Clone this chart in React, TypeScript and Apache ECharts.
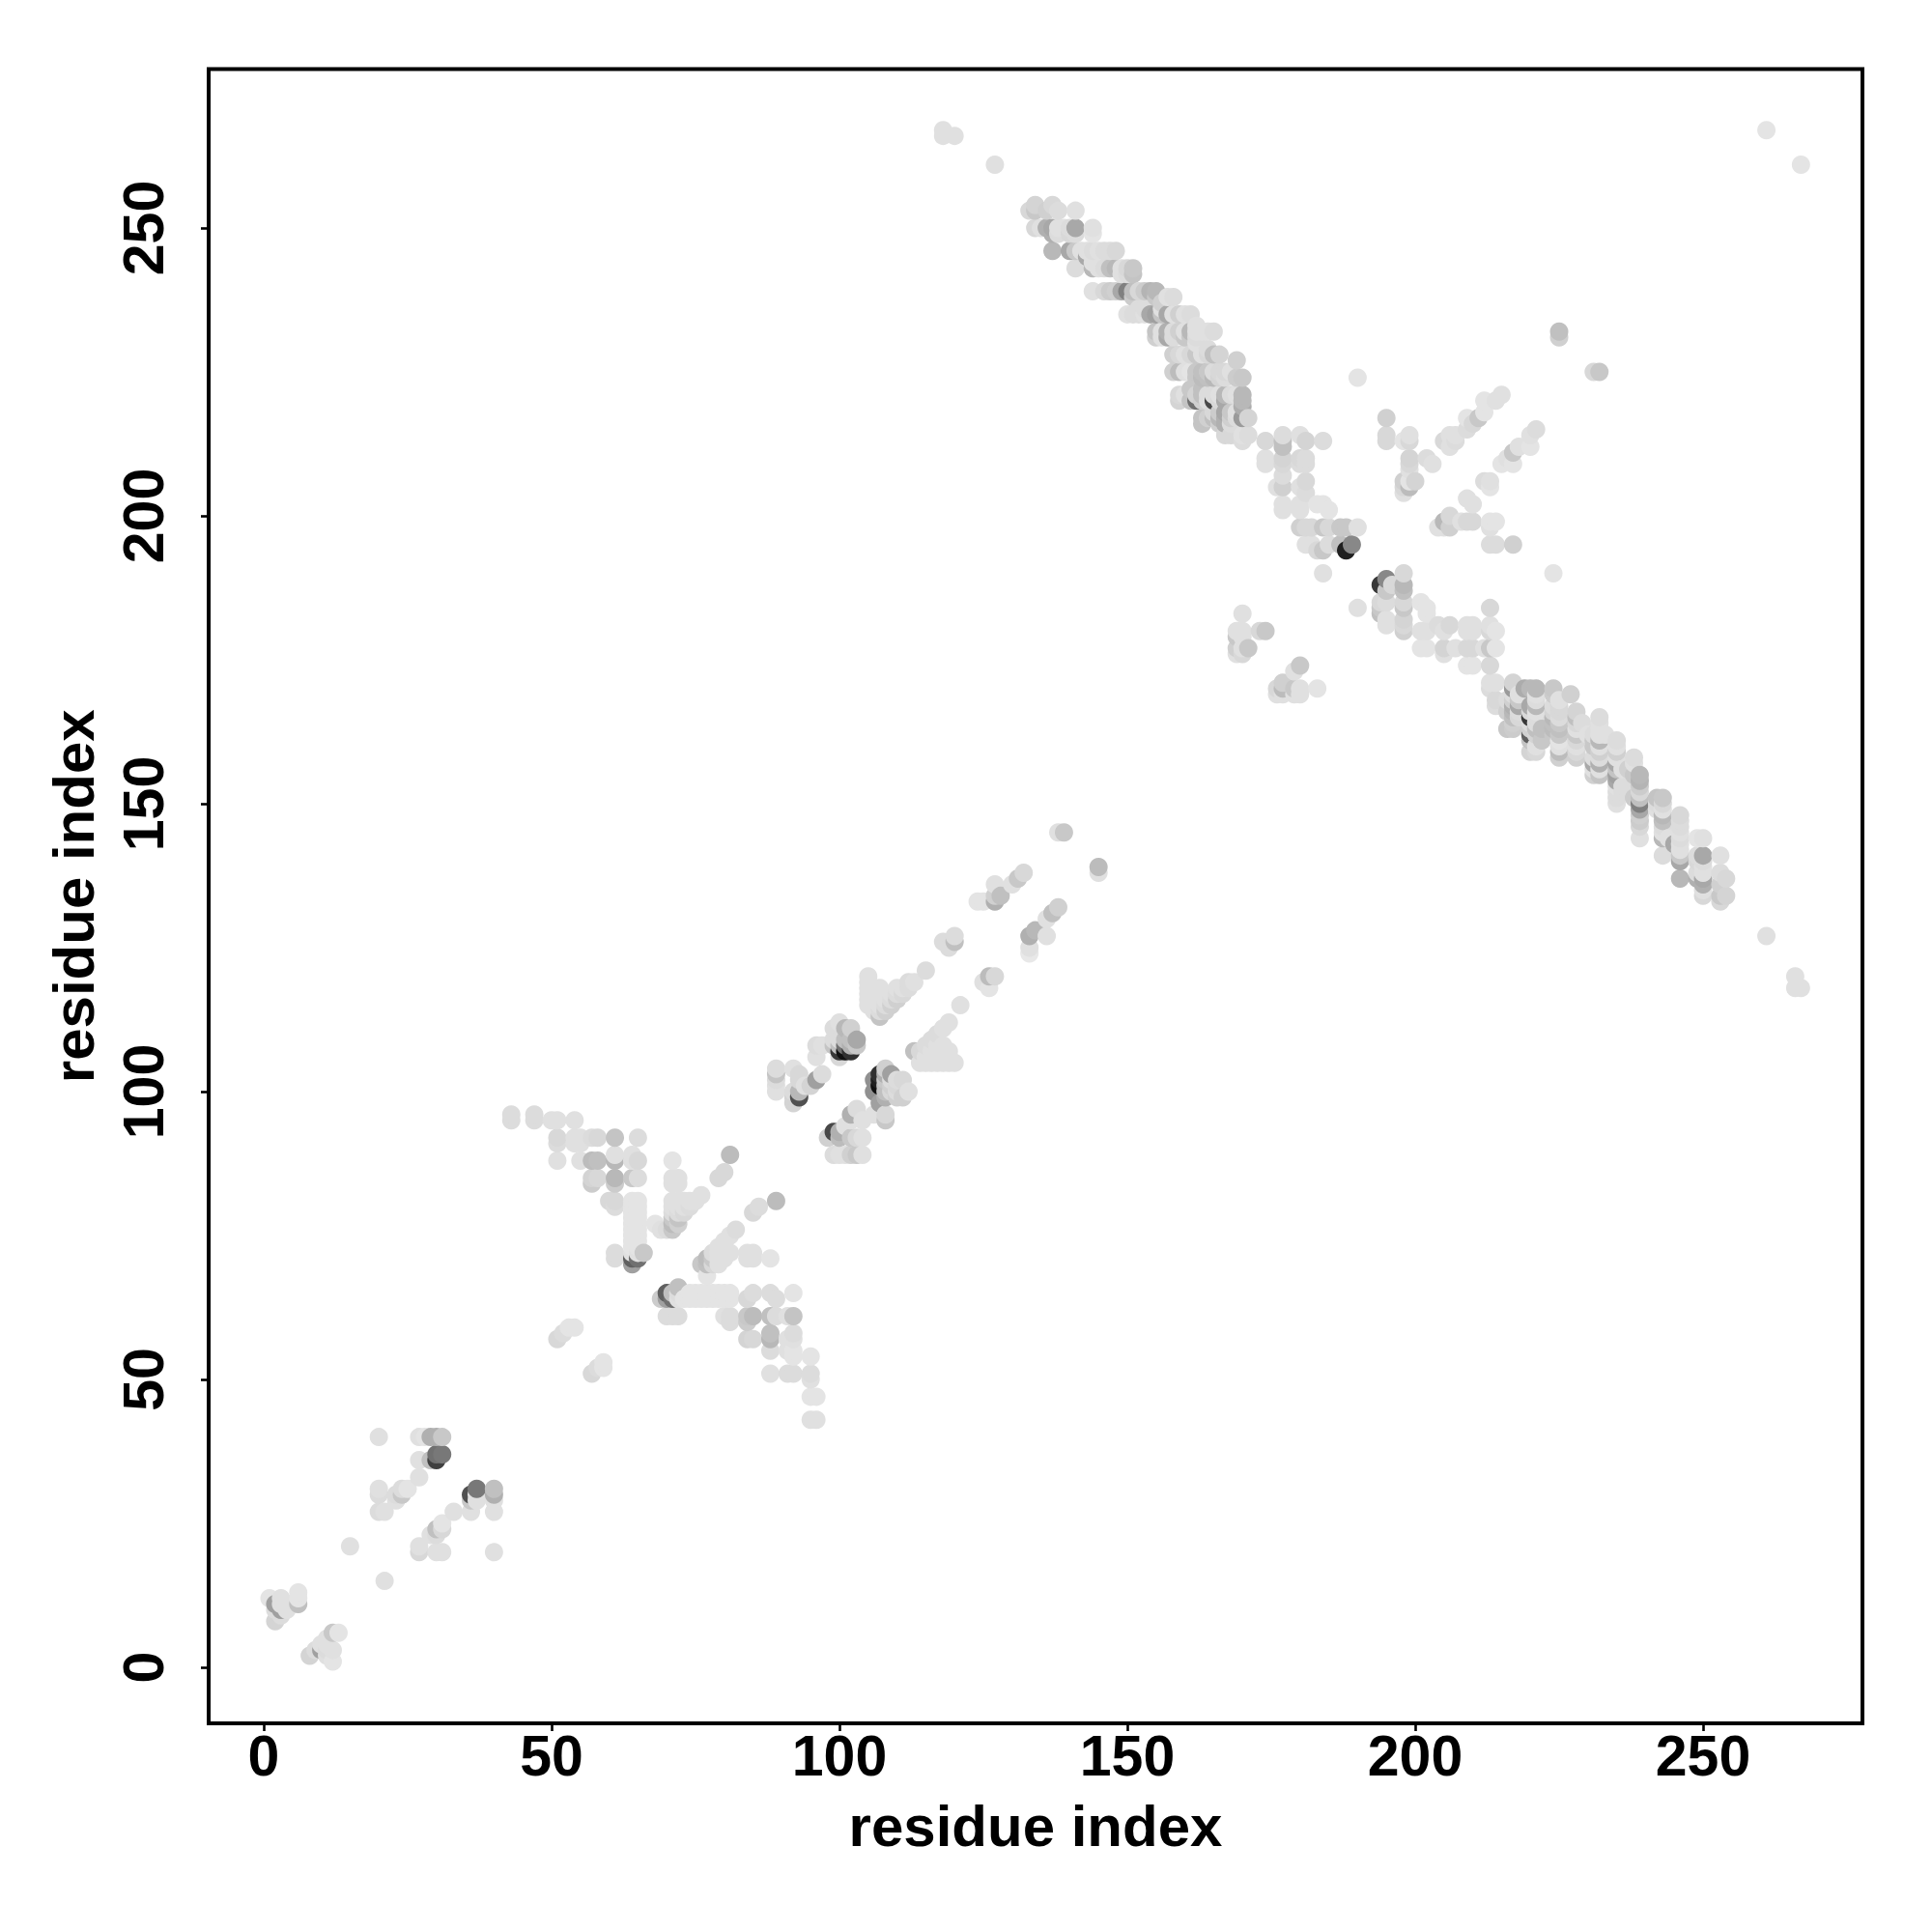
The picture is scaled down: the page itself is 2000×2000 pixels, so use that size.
import React, { useEffect, useRef } from "react";
import * as echarts from "echarts";

type Contact = [number, number, number];

const xTickValues = [0, 50, 100, 150, 200, 250];
const yTickValues = [0, 50, 100, 150, 200, 250];
const axisTitle = "residue index";

// [residue i, residue j, grey level]
const lowUpper: Contact[] = [
  [1,12,0xe4],[2,10,0xdc],[2,11,0xa0],[3,11,0xe0],[3,12,0xe0],[4,11,0xe0],[5,11,0xe0],[6,11,0xc0],[6,12,0xe4],[2,8,0xd4],[3,9,0xdc],[3,10,0xa0],[4,10,0xe0],[6,13,0xe4],
  [15,21,0xe0],[20,27,0xdc],[20,30,0xdc],[20,31,0xe0],[20,40,0xe0],[21,27,0xe0],[23,29,0xe0],[23,30,0xdc],[24,30,0xc8],[24,31,0xdc],[25,31,0xe4],
  [27,33,0xe0],[27,36,0xe0],[27,40,0xe0],[28,40,0xe4],[29,36,0xc0],[29,40,0xb0],[30,36,0x40],[30,37,0x70],[30,40,0xb0],[31,37,0x78],[31,40,0xc8],
];
const lowLower: Contact[] = [
  [12,1,0xe4],[11,2,0xe0],[11,3,0xdc],[12,3,0xe0],[11,4,0xe0],[11,5,0xe0],[12,6,0xc8],[13,6,0xe4],[8,2,0xd4],[9,3,0xdc],[10,3,0xa0],[10,4,0xe0],
  [21,15,0xe0],[27,20,0xd8],[27,21,0xe0],[29,23,0xe0],[30,20,0xe0],[30,23,0xdc],[30,24,0xc0],[31,20,0xe0],[31,24,0xd8],[31,25,0xe4],[33,27,0xe0],
  [36,27,0xe0],[36,29,0xc8],[36,30,0x50],[37,29,0xe0],[37,30,0xe0],[37,31,0x78],[40,20,0xe0],[40,27,0xe0],[40,29,0xe0],[40,30,0xb0],[40,31,0xc0],
];
const midLeftUpper: Contact[] = [
  [43,95,0xdc],[43,96,0xdc],[47,95,0xdc],[47,96,0xdc],[50,95,0xe0],[51,95,0xe0],[54,95,0xe0],[51,88,0xe0],[51,91,0xdc],[51,92,0xd8],[51,57,0xd8],[52,58,0xdc],[53,59,0xe4],[54,59,0xe4],
  [54,91,0xe0],[54,92,0xe0],[55,88,0xe0],[55,91,0xe0],[55,92,0xe0],[57,84,0xcc],[57,85,0xd4],[57,88,0xbc],[57,92,0xdc],[58,85,0xd8],[58,88,0xc0],[58,92,0xd8],
  [60,81,0xd8],[61,71,0xdc],[61,72,0xdc],[61,80,0xdc],[61,81,0xd8],[61,84,0xcc],[61,85,0xb8],[61,88,0xb8],[61,89,0xe0],[61,92,0xc4],
  [64,70,0xa0],[64,71,0x60],[64,72,0xe0],[64,73,0xe4],[64,74,0xe4],[64,75,0xe4],[64,76,0xe4],[64,77,0xe4],[64,78,0xe4],[64,79,0xe4],[64,80,0xe4],[64,81,0xe4],[64,85,0xc8],[64,88,0xe0],[64,89,0xe0],
  [65,71,0x70],[65,72,0xe0],[65,73,0xe4],[65,74,0xe4],[65,75,0xe4],[65,76,0xe4],[65,77,0xe4],[65,78,0xe4],[65,79,0xe4],[65,80,0xe4],[65,81,0xe4],[65,85,0xdc],[65,88,0xd8],[65,92,0xdc],[66,72,0xc8],
  [68,77,0xe4],[69,76,0xe0],[70,76,0xdc],[71,76,0xc8],[71,77,0xbc],[71,78,0xc8],[71,79,0xdc],[71,80,0xe0],[71,81,0xe0],[71,84,0xe0],[71,85,0xe0],[71,88,0xe4],
  [72,77,0xd0],[72,78,0xc4],[72,79,0xdc],[72,80,0xe0],[72,81,0xe0],[72,84,0xe0],[72,85,0xe0],[73,79,0xd8],[73,80,0xe0],[73,81,0xe0],[74,80,0xdc],[74,81,0xe0],[75,81,0xe0],[76,82,0xe0],[79,85,0xd8],[80,86,0xd8],[81,89,0xbc],
];
const midLeftLower: Contact[] = [
  [57,51,0xd8],[58,52,0xdc],[59,52,0xe4],[59,53,0xe4],[69,64,0xcc],[70,61,0xdc],[70,64,0xa0],[70,65,0x60],[71,61,0xdc],[71,64,0x70],[71,65,0xc0],[72,61,0xdc],[72,64,0xe0],[72,65,0xdc],[72,66,0xc0],
  [73,64,0xe4],[74,64,0xe4],[74,65,0xe4],[75,64,0xe4],[75,65,0xe4],[76,64,0xe4],[76,65,0xe4],[76,70,0xc8],[77,64,0xe4],[77,65,0xe4],[77,68,0xe4],[77,70,0xc0],[77,71,0xbc],[78,64,0xe4],[78,65,0xe4],[78,70,0xd8],[78,71,0xc8],[78,72,0xdc],
  [79,64,0xe4],[79,65,0xe4],[79,70,0xe0],[79,71,0xe0],[79,72,0xe0],[79,73,0xe0],[80,61,0xe0],[80,64,0xe4],[80,65,0xe4],[80,71,0xe0],[80,72,0xe0],[80,73,0xe0],[80,74,0xe0],[81,60,0xdc],[81,61,0xdc],[81,64,0xe4],[81,65,0xe4],[81,72,0xe0],[81,75,0xe0],[82,76,0xdc],
  [84,57,0xd4],[84,60,0xcc],[84,61,0xc8],[84,64,0xd8],[84,71,0xe0],[84,72,0xe0],[85,57,0xd8],[85,61,0xbc],[85,65,0xdc],[85,71,0xe0],[85,72,0xe0],[85,79,0xd8],[86,80,0xdc],
  [88,51,0xe0],[88,55,0xdc],[88,57,0xb8],[88,58,0xc0],[88,61,0xc0],[88,65,0xdc],[88,71,0xe4],[89,61,0xdc],[89,64,0xdc],[89,81,0xbc],
  [91,51,0xdc],[91,55,0xe0],[91,57,0xe0],[91,61,0xe0],[92,51,0xdc],[92,54,0xe4],[92,55,0xe4],[92,57,0xe0],[92,58,0xdc],[92,61,0xc4],[92,65,0xe4],[95,43,0xe0],[95,47,0xe4],[95,50,0xe0],[95,51,0xdc],[95,54,0xe4],[96,43,0xe0],[96,47,0xe4],
];
const midRightUpper: Contact[] = [
  [89,100,0xe0],[89,101,0xe0],[89,102,0xdc],[89,103,0xc4],[89,104,0xdc],[92,98,0xd4],[92,99,0xd4],[92,100,0xdc],[92,104,0xe0],[93,99,0x50],[93,100,0xb8],[93,102,0xd8],[93,103,0xd8],[94,101,0xe0],[95,101,0xd4],[96,102,0xa0],[96,106,0xe0],[96,108,0xdc],[97,103,0xdc],[97,108,0xe0],
  [99,108,0xc4],[99,109,0xdc],[99,111,0xdc],[100,106,0xd8],[100,107,0x38],[100,108,0xc0],[100,109,0xdc],[100,112,0xe0],[101,107,0x10],[101,108,0x70],[101,109,0xc0],[101,111,0xb8],[102,107,0x30],[102,108,0xb0],[102,109,0xc0],[102,111,0xd0],[103,108,0xc8],[103,109,0xa8],
  [105,115,0xe0],[105,116,0xe0],[105,117,0xe0],[105,118,0xe0],[105,119,0xe0],[105,120,0xe0],[106,114,0xe0],[106,115,0xe0],[106,116,0xe0],[106,117,0xe0],[106,118,0xe0],[107,113,0xc4],[107,114,0xdc],[107,115,0xe0],[107,116,0xe0],[107,117,0xe0],[107,118,0xe0],
  [108,114,0xd0],[108,115,0xdc],[108,116,0xe0],[108,117,0xe0],[109,115,0xd0],[109,116,0xdc],[109,117,0xe0],[110,116,0xd0],[110,117,0xdc],[110,118,0xe0],[111,117,0xd8],[111,118,0xe0],[112,118,0xdc],[112,119,0xdc],[113,119,0xe0],[115,121,0xdc],
  [118,126,0xdc],[118,267,0xe0],[118,266,0xe0],[119,125,0xdc],[120,126,0xc0],[120,127,0xdc],[120,266,0xe0],[124,133,0xe4],[125,133,0xe4],[127,133,0xb0],[127,134,0xd0],[127,136,0xe0],[127,261,0xe0],[128,134,0xc0],[130,136,0xe0],[131,137,0xc8],[132,138,0xd8],[138,145,0xe0],[139,145,0xc8],
];
const midRightLower: Contact[] = [
  [98,92,0xd0],[99,89,0xdc],[99,93,0x48],[100,89,0xe0],[100,92,0xbc],[100,93,0xb0],[101,89,0xe0],[101,94,0xe0],[102,89,0xd0],[102,92,0xc8],[102,95,0xe0],[102,96,0xb0],[103,89,0xc8],[103,92,0xd8],[103,97,0xdc],[104,89,0xe0],[104,92,0xe0],[104,95,0xe0],
  [106,96,0xe0],[106,100,0x90],[106,102,0x90],[107,98,0xa0],[107,101,0x10],[107,102,0x20],[107,103,0x30],[108,95,0xc8],[108,96,0xd8],[108,99,0xb0],[108,100,0xc0],[108,101,0xc0],[108,102,0xc8],[108,103,0xb0],[108,104,0xd0],[109,100,0xd8],[109,101,0xd0],[109,102,0xdc],[109,103,0xa0],[110,99,0xd0],[110,100,0xdc],[110,101,0xd8],[110,102,0xdc],[111,99,0xd0],[111,102,0xd8],[112,100,0xe0],
  [113,107,0xc0],[114,105,0xe0],[114,107,0xd8],[115,105,0xe0],[115,106,0xe0],[115,108,0xdc],[116,105,0xe0],[116,106,0xe0],[116,107,0xe0],[116,109,0xdc],[117,105,0xe0],[117,106,0xe0],[117,107,0xe0],[117,108,0xe0],[117,110,0xdc],
  [118,105,0xe0],[118,106,0xe0],[118,107,0xe0],[118,108,0xe0],[118,111,0xe0],[119,105,0xe0],[119,106,0xe0],[119,107,0xe0],[119,112,0xe0],[120,105,0xe0],[121,115,0xe0],
  [125,119,0xe0],[126,118,0xe4],[126,120,0xbc],[127,120,0xd8],[133,124,0xe8],[133,125,0xe0],[133,127,0xb0],[134,128,0xb8],[136,127,0xe0],[136,130,0xe0],[137,131,0xc0],[138,132,0xd0],[145,138,0xe0],[145,139,0xbc],
];
const bandUpper: Contact[] = [
  [133,253,0xd8],[134,250,0xd8],[134,253,0xc8],[134,254,0xd4],[135,250,0xe0],[136,250,0xb0],[136,253,0xd0],[137,246,0xb8],[137,249,0xb0],[137,250,0xa8],[137,254,0xd8],[138,249,0xdc],[138,250,0xe0],[138,253,0xdc],[139,250,0xe0],[140,246,0xa8],[140,249,0xd8],[140,250,0xdc],[141,243,0xdc],[141,246,0xc8],[141,249,0xdc],[141,250,0xa8],[141,253,0xe0],
  [142,246,0xe0],[143,245,0xa8],[143,246,0xe0],[144,239,0xe0],[144,243,0xb8],[144,244,0xe0],[144,246,0xdc],[144,249,0xe4],[144,250,0xe0],[145,243,0xe0],[145,246,0xe0],[146,239,0xd8],[146,243,0xdc],[146,246,0xdc],[147,239,0xcc],[147,243,0xc0],[147,246,0xdc],[148,239,0xd0],[148,243,0xb8],[148,246,0xd8],[149,239,0xa8],[149,242,0xe0],[149,243,0xe0],
  [150,235,0xe0],[150,239,0x80],[150,242,0xdc],[150,243,0xd8],[151,235,0xdc],[151,238,0xcc],[151,239,0xc0],[151,242,0xc4],[151,243,0xc8],[152,235,0xdc],[152,236,0xdc],[152,239,0xd8],[153,235,0xe0],[153,236,0xdc],[153,239,0xcc],[154,235,0xa8],[154,239,0xb4],[155,231,0xd0],[155,232,0xc4],[155,235,0xa0],[155,238,0xc8],[155,239,0xb8],
  [156,231,0xe0],[156,232,0xe0],[156,235,0xc4],[156,236,0xe0],[156,237,0xd0],[157,231,0xa8],[157,232,0xb0],[157,235,0xa8],[157,238,0xe0],[158,225,0xd0],[158,228,0xd0],[158,231,0xdc],[158,232,0xdc],[158,235,0xe0],[158,238,0xdc],[159,220,0xd4],[159,221,0xd8],[159,225,0xbc],[159,228,0xd8],[159,232,0xd0],[159,235,0xd0],
  [160,221,0xe0],[160,225,0xe0],[160,228,0xe0],[160,231,0xc8],[160,232,0xe0],[160,235,0xe0],[161,220,0xc4],[161,222,0xc8],[161,225,0xe4],[161,228,0xd8],[161,231,0xc8],[161,232,0xb8],[161,235,0xdc],[162,220,0x70],[162,221,0xd4],[162,224,0xc8],[162,225,0xc8],[162,228,0xc8],[162,230,0xe0],[162,231,0xdc],[162,232,0xe0],[162,233,0xe0],
  [163,216,0xc4],[163,217,0xc4],[163,220,0xd0],[163,221,0xc0],[163,222,0xc0],[163,224,0xbc],[163,225,0xc0],[163,228,0xe0],[163,232,0xe0],[164,217,0xd0],[164,220,0xdc],[164,221,0xdc],[164,224,0xc0],[164,225,0xc8],[164,228,0xd8],[164,229,0xdc],[164,232,0xe0],[165,217,0xc0],[165,218,0xd8],[165,220,0x48],[165,221,0xdc],[165,224,0xb8],[165,225,0xdc],[165,228,0xc0],[165,232,0xdc],
  [166,216,0xd0],[166,217,0xb8],[166,218,0xcc],[166,220,0xd8],[166,221,0xe0],[166,224,0xd4],[166,225,0xd8],[166,228,0xd4],[167,214,0xd8],[167,216,0xb0],[167,217,0xb0],[167,218,0xa8],[167,220,0xa8],[167,221,0xb8],[167,224,0xdc],[167,225,0xd8],[168,214,0xd8],[168,216,0xdc],[168,217,0xd0],[168,218,0xc8],[168,221,0xdc],[168,225,0xe0],[169,176,0xe0],[169,177,0xd0],[169,179,0xc8],[169,180,0xe0],[169,217,0xdc],[169,218,0xe0],[169,221,0xe0],[169,224,0xcc],[169,227,0xd0],
  [170,176,0xd8],[170,177,0xe0],[170,179,0xe0],[170,180,0xe0],[170,183,0xe0],[170,213,0xdc],[170,214,0xe0],[170,217,0x9a],[170,219,0xac],[170,220,0xb8],[170,221,0xb8],[170,224,0xc8],[171,177,0xc8],[171,214,0xdc],[171,217,0xd4],[173,180,0xd8],[174,180,0xc8],
  [174,209,0xe0],[174,210,0xe0],[174,213,0xd8],[176,205,0xe0],[177,201,0xe0],[177,202,0xe0],[177,205,0xd0],[177,207,0xdc],[177,209,0xd8],[177,210,0xd4],[177,212,0xc0],[177,213,0xc0],[177,214,0xdc],[180,198,0xd0],[180,201,0xe0],[180,202,0xe0],[180,205,0xe0],[180,209,0xdc],[180,210,0xd8],[180,214,0xe0],
  [181,195,0xe0],[181,198,0xd8],[181,204,0xdc],[181,206,0xd8],[181,209,0xdc],[181,210,0xdc],[181,213,0xd4],[182,195,0xe0],[182,198,0xd8],[183,194,0xd8],[183,202,0xe4],[184,190,0xe0],[184,194,0xc8],[184,198,0xc8],[184,202,0xe4],[184,213,0xdc],
  [185,195,0xdc],[185,198,0xd8],[185,201,0xe4],[187,195,0xc0],[187,198,0xc8],[188,194,0x20],[188,198,0xc8],[189,195,0x88],[190,198,0xe0],[190,224,0xe4],
];
const bandLower: Contact[] = [
  [176,169,0xe0],[176,170,0xd8],[177,169,0xe0],[177,170,0xbc],[177,171,0xd0],[179,169,0xe0],[179,170,0xc8],[179,173,0xe0],[180,169,0xe0],[180,170,0xe0],[180,174,0xc8],[183,170,0xe4],
  [190,184,0xe0],[194,183,0xc0],[194,184,0xc8],[194,185,0xd8],[194,188,0x38],[195,181,0xe0],[195,182,0xe0],[195,185,0xdc],[195,187,0xc8],[195,189,0x88],[196,188,0xd8],[198,180,0xd0],[198,181,0xd8],[198,182,0xd4],[198,184,0xc8],[198,185,0xd8],[198,187,0xc0],[198,188,0xb8],[198,190,0xd8],
  [201,177,0xe4],[201,180,0xe0],[201,185,0xe4],[202,177,0xe4],[202,180,0xe0],[202,183,0xe4],[202,184,0xe4],[204,181,0xdc],[205,176,0xe0],[205,177,0xd4],[205,180,0xe0],[206,181,0xd8],[207,177,0xe0],[209,174,0xe4],[209,177,0xd8],[209,180,0xe0],[209,181,0xe0],[210,174,0xe4],[210,177,0xd8],[210,180,0xe0],[210,181,0xe0],
  [212,177,0xe0],[213,170,0xdc],[213,171,0xe0],[213,174,0xd8],[213,177,0xc8],[213,180,0xd8],[213,181,0xe0],[213,184,0xd8],[214,167,0xdc],[214,168,0xd8],[214,171,0xe0],[214,177,0xe4],[214,180,0xe4],
  [216,163,0xc8],[216,166,0xd0],[216,168,0xdc],[217,163,0xcc],[217,164,0xd0],[217,165,0xc0],[217,166,0xb8],[217,167,0xb0],[217,168,0xd0],[217,169,0xdc],[217,170,0x9a],[217,171,0xd4],[218,165,0xd8],[218,166,0xdc],[218,167,0xa8],[218,168,0xc8],[218,169,0xe0],[219,170,0xac],[220,159,0xd4],[220,161,0xc4],[220,162,0x60],[220,163,0xd0],[220,164,0xdc],[220,165,0x38],[220,166,0xd8],[220,167,0xa8],[220,170,0xb8],
  [221,159,0xd8],[221,160,0xe0],[221,162,0xd4],[221,163,0xc0],[221,164,0xdc],[221,165,0xdc],[221,166,0xe0],[221,167,0xb8],[221,168,0xdc],[221,169,0xe0],[221,170,0xb8],[222,161,0xc8],[222,163,0xc0],[224,162,0xc8],[224,163,0xbc],[224,164,0xc0],[224,165,0xb8],[224,166,0xd4],[224,167,0xdc],[224,169,0xcc],[224,170,0xc8],
  [225,158,0xd0],[225,159,0xbc],[225,160,0xe0],[225,161,0xe4],[225,162,0xc8],[225,163,0xc0],[225,164,0xc8],[225,165,0xdc],[225,166,0xd8],[225,167,0xd8],[225,168,0xe0],[227,169,0xd0],[228,158,0xd0],[228,159,0xd8],[228,160,0xe0],[228,161,0xd8],[228,162,0xc8],[228,163,0xe0],[228,164,0xd8],[228,165,0xc0],[228,166,0xd4],[229,164,0xdc],[230,162,0xe0],
  [231,155,0xd0],[231,156,0xe0],[231,157,0xa8],[231,158,0xdc],[231,160,0xc8],[231,161,0xc8],[231,162,0xdc],[232,155,0xc4],[232,156,0xe0],[232,157,0xb0],[232,158,0xdc],[232,159,0xd0],[232,160,0xe0],[232,161,0xb8],[232,162,0xe0],[232,163,0xe0],[232,164,0xe0],[232,165,0xdc],[233,162,0xe0],[235,150,0xe0],[235,151,0xdc],[235,152,0xdc],[235,153,0xe0],[235,154,0xa8],[235,155,0xa0],[235,156,0xc4],[235,157,0xa8],[235,158,0xe0],[235,159,0xd0],[235,160,0xe0],[235,161,0xdc],[236,152,0xdc],[236,153,0xdc],[236,156,0xe0],[237,156,0xd0],
  [238,151,0xcc],[238,155,0xc8],[238,157,0xe0],[238,158,0xdc],[239,144,0xe0],[239,146,0xd8],[239,147,0xcc],[239,148,0xd0],[239,149,0xa8],[239,150,0x80],[239,151,0xc0],[239,152,0xd8],[239,153,0xcc],[239,154,0xb4],[239,155,0xb8],[242,149,0xe0],[242,150,0xdc],[242,151,0xc4],[243,141,0xdc],[243,144,0xb8],[243,145,0xe0],[243,146,0xdc],[243,147,0xc0],[243,148,0xb8],[243,149,0xe0],[243,150,0xd8],[243,151,0xc8],
  [244,144,0xe0],[245,143,0xa8],[246,137,0xb8],[246,140,0xa8],[246,141,0xc8],[246,142,0xe0],[246,143,0xe0],[246,144,0xdc],[246,145,0xe0],[246,146,0xdc],[246,147,0xdc],[246,148,0xd8],[249,137,0xb0],[249,138,0xdc],[249,140,0xd8],[249,141,0xdc],[249,144,0xe4],[250,134,0xd8],[250,135,0xe0],[250,136,0xb0],[250,137,0xa8],[250,138,0xe0],[250,139,0xe0],[250,140,0xdc],[250,141,0xa8],[250,144,0xe0],
  [253,133,0xd8],[253,134,0xc8],[253,136,0xd0],[253,138,0xdc],[253,141,0xe0],[254,134,0xd4],[254,137,0xd8],[261,127,0xe0],[266,118,0xe0],[266,120,0xe0],[267,118,0xe0],
];
const armsUpper: Contact[] = [
  [195,213,0xd8],[195,214,0xd8],[195,217,0xd0],[198,204,0xe0],[198,205,0xd8],[198,206,0xd0],[198,213,0xe4],[199,205,0xbc],[199,206,0xe4],[199,208,0xe0],[199,209,0xd8],[199,210,0xd4],[199,213,0xd8],[199,214,0xe0],[200,206,0xd4],[202,210,0xdc],[203,209,0xe0],
  [205,213,0xd8],[206,212,0xe0],[206,214,0xe0],[207,213,0xdc],[207,214,0xe0],[209,215,0xdc],[209,217,0xe4],[210,216,0xd8],[211,217,0xc8],[212,218,0xe4],[212,220,0xe4],[214,220,0xe0],[215,221,0xe0],[225,231,0xd0],[225,232,0xc0],[261,267,0xe4],
];
const armsLower: Contact[] = [
  [204,198,0xe0],[205,198,0xe0],[205,199,0xb8],[206,198,0xd0],[206,200,0xd8],[208,199,0xe0],[209,199,0xd8],[209,203,0xe0],[210,199,0xd8],[210,202,0xe0],[212,206,0xdc],[213,195,0xdc],[213,198,0xe0],[213,199,0xe4],[213,205,0xe4],[213,206,0xe0],[214,195,0xdc],[214,199,0xe4],
  [215,209,0xe4],[216,210,0xe0],[217,195,0xd0],[217,209,0xe4],[217,211,0xc8],[218,212,0xe0],[220,212,0xe4],[220,214,0xe0],[221,215,0xdc],[224,190,0xe4],[231,225,0xd8],[232,225,0xc8],[267,261,0xe4],
];

const contacts: Contact[] = [
  ...lowUpper, ...lowLower, ...midLeftUpper, ...midLeftLower, ...midRightUpper,
  ...midRightLower, ...bandUpper, ...bandLower, ...armsUpper, ...armsLower,
].sort((a, b) => a[0] - b[0] || a[1] - b[1]);

const font = "'Liberation Sans', Arial, Helvetica, sans-serif";

export default function App() {
  const ref = useRef<HTMLDivElement>(null);
  useEffect(() => {
    const chart = echarts.init(ref.current!, undefined, { renderer: "svg" });
    const axisBase = (ticks: number[]) => ({
      type: "value" as const,
      name: axisTitle,
      nameLocation: "middle" as const,
      nameTextStyle: { color: "#000", fontFamily: font, fontWeight: "bold" as const, fontSize: 60 },
      splitLine: { show: false },
      axisLine: { show: false, onZero: false },
      axisTick: { show: true, length: 8, lineStyle: { color: "#000", width: 2.6 }, customValues: ticks },
    });
    chart.setOption({
      animation: false,
      backgroundColor: "#fff",
      grid: { show: true, left: 216, top: 71.5, width: 1712, height: 1712.5, borderColor: "#000", borderWidth: 4, backgroundColor: "#fff" },
      xAxis: {
        ...axisBase(xTickValues),
        min: -9.56,
        max: 277.68,
        nameGap: 76,
        axisLabel: { customValues: xTickValues, color: "#000", fontFamily: font, fontWeight: "bold", fontSize: 59, margin: 4 },
      },
      yAxis: {
        ...axisBase(yTickValues),
        min: -9.73,
        max: 277.6,
        nameGap: 110,
        axisLabel: { customValues: yTickValues, rotate: 90, color: "#000", fontFamily: font, fontWeight: "bold", fontSize: 59, margin: 38 },
      },
      series: [
        {
          type: "scatter",
          symbol: "circle",
          symbolSize: 19,
          silent: true,
          data: contacts.map(([x, y, g]) => ({
            value: [x, y],
            itemStyle: { color: `rgb(${g},${g},${g})`, opacity: 1 },
          })),
        },
      ],
    });
    return () => chart.dispose();
  }, []);
  return <div ref={ref} style={{ position: "absolute", left: 0, top: 0, width: 2000, height: 2000 }} />;
}
